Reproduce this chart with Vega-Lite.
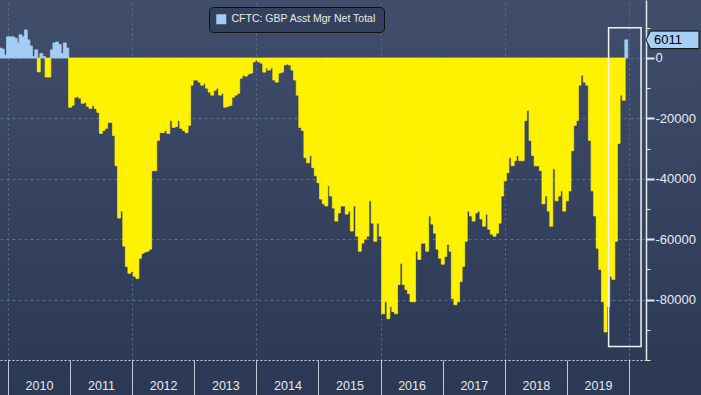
{
  "$schema": "https://vega.github.io/schema/vega-lite/v6.json",
  "width": 701,
  "height": 395,
  "autosize": {"type": "none"},
  "padding": 0,
  "background": "#2f3c58",
  "config": {
    "view": {"stroke": null, "fill": {"gradient": "linear", "x1": 0, "y1": 0, "x2": 0, "y2": 1, "stops": [{"offset": 0, "color": "#404d6b"}, {"offset": 1, "color": "#2c3954"}]}},
    "font": "Liberation Sans",
    "axis": {"title": null, "labelFont": "Liberation Sans"},
    "scale": {"continuousPadding": 0}
  },
  "datasets": {
    "cftc": [
      {"date": "2009-11-16", "net": 3300}, {"date": "2009-12-01", "net": 3000}, {"date": "2009-12-16", "net": 1000},
      {"date": "2010-01-01", "net": 7000}, {"date": "2010-01-16", "net": 7000}, {"date": "2010-02-01", "net": 7000}, {"date": "2010-02-16", "net": 6500},
      {"date": "2010-03-01", "net": 5000}, {"date": "2010-03-16", "net": 7700}, {"date": "2010-04-01", "net": 7000}, {"date": "2010-04-16", "net": 9300},
      {"date": "2010-05-01", "net": 6000}, {"date": "2010-05-16", "net": 4000}, {"date": "2010-06-01", "net": 500}, {"date": "2010-06-16", "net": 2700},
      {"date": "2010-07-01", "net": -4600}, {"date": "2010-07-16", "net": 1500}, {"date": "2010-08-01", "net": 500}, {"date": "2010-08-16", "net": -6300},
      {"date": "2010-09-01", "net": -6300}, {"date": "2010-09-16", "net": 2700}, {"date": "2010-10-01", "net": 5000}, {"date": "2010-10-16", "net": 5300},
      {"date": "2010-11-01", "net": 4500}, {"date": "2010-11-16", "net": 1500}, {"date": "2010-12-01", "net": 5000}, {"date": "2010-12-16", "net": 3300},
      {"date": "2011-01-01", "net": -16300}, {"date": "2011-01-16", "net": -15700}, {"date": "2011-02-01", "net": -13000}, {"date": "2011-02-16", "net": -12700},
      {"date": "2011-03-01", "net": -13300}, {"date": "2011-03-16", "net": -15000}, {"date": "2011-04-01", "net": -14700}, {"date": "2011-04-16", "net": -16000},
      {"date": "2011-05-01", "net": -16700}, {"date": "2011-05-16", "net": -15700}, {"date": "2011-06-01", "net": -16700}, {"date": "2011-06-16", "net": -18000},
      {"date": "2011-07-01", "net": -25000}, {"date": "2011-07-16", "net": -24000}, {"date": "2011-08-01", "net": -23300}, {"date": "2011-08-16", "net": -21300},
      {"date": "2011-09-01", "net": -21300}, {"date": "2011-09-16", "net": -25700}, {"date": "2011-10-01", "net": -35700}, {"date": "2011-10-16", "net": -53000},
      {"date": "2011-11-01", "net": -50700}, {"date": "2011-11-16", "net": -62300}, {"date": "2011-12-01", "net": -69000}, {"date": "2011-12-16", "net": -71300},
      {"date": "2012-01-01", "net": -70700}, {"date": "2012-01-16", "net": -72300}, {"date": "2012-02-01", "net": -73000}, {"date": "2012-02-16", "net": -66300},
      {"date": "2012-03-01", "net": -64700}, {"date": "2012-03-16", "net": -64300}, {"date": "2012-04-01", "net": -64000}, {"date": "2012-04-16", "net": -63300},
      {"date": "2012-05-01", "net": -37300}, {"date": "2012-05-16", "net": -37300}, {"date": "2012-06-01", "net": -27300}, {"date": "2012-06-16", "net": -24700},
      {"date": "2012-07-01", "net": -24700}, {"date": "2012-07-16", "net": -24000}, {"date": "2012-08-01", "net": -25000}, {"date": "2012-08-16", "net": -20700},
      {"date": "2012-09-01", "net": -23000}, {"date": "2012-09-16", "net": -22700}, {"date": "2012-10-01", "net": -20700}, {"date": "2012-10-16", "net": -23300},
      {"date": "2012-11-01", "net": -24000}, {"date": "2012-11-16", "net": -24700}, {"date": "2012-12-01", "net": -22300}, {"date": "2012-12-16", "net": -9000},
      {"date": "2013-01-01", "net": -7300}, {"date": "2013-01-16", "net": -7300}, {"date": "2013-02-01", "net": -8000}, {"date": "2013-02-16", "net": -9000},
      {"date": "2013-03-01", "net": -8300}, {"date": "2013-03-16", "net": -10000}, {"date": "2013-04-01", "net": -11300}, {"date": "2013-04-16", "net": -12300},
      {"date": "2013-05-01", "net": -10700}, {"date": "2013-05-16", "net": -10000}, {"date": "2013-06-01", "net": -12300}, {"date": "2013-06-16", "net": -11700},
      {"date": "2013-07-01", "net": -16300}, {"date": "2013-07-16", "net": -16000}, {"date": "2013-08-01", "net": -15700}, {"date": "2013-08-16", "net": -13000},
      {"date": "2013-09-01", "net": -12300}, {"date": "2013-09-16", "net": -11700}, {"date": "2013-10-01", "net": -6700}, {"date": "2013-10-16", "net": -5700},
      {"date": "2013-11-01", "net": -6000}, {"date": "2013-11-16", "net": -5300}, {"date": "2013-12-01", "net": -5000}, {"date": "2013-12-16", "net": -1300},
      {"date": "2014-01-01", "net": -700}, {"date": "2014-01-16", "net": -1300}, {"date": "2014-02-01", "net": -1700}, {"date": "2014-02-16", "net": -4700},
      {"date": "2014-03-01", "net": -3300}, {"date": "2014-03-16", "net": -4000}, {"date": "2014-04-01", "net": -3300}, {"date": "2014-04-16", "net": -7300},
      {"date": "2014-05-01", "net": -8000}, {"date": "2014-05-16", "net": -5000}, {"date": "2014-06-01", "net": -4700}, {"date": "2014-06-16", "net": -2300},
      {"date": "2014-07-01", "net": -2000}, {"date": "2014-07-16", "net": -2300}, {"date": "2014-08-01", "net": -4000}, {"date": "2014-08-16", "net": -7300},
      {"date": "2014-09-01", "net": -12300}, {"date": "2014-09-16", "net": -23000}, {"date": "2014-10-01", "net": -24000}, {"date": "2014-10-16", "net": -33000},
      {"date": "2014-11-01", "net": -34700}, {"date": "2014-11-16", "net": -32300}, {"date": "2014-12-01", "net": -36300}, {"date": "2014-12-16", "net": -39000},
      {"date": "2015-01-01", "net": -41300}, {"date": "2015-01-16", "net": -46700}, {"date": "2015-02-01", "net": -48300}, {"date": "2015-02-16", "net": -49000},
      {"date": "2015-03-01", "net": -42300}, {"date": "2015-03-16", "net": -45700}, {"date": "2015-04-01", "net": -49700}, {"date": "2015-04-16", "net": -54000},
      {"date": "2015-05-01", "net": -51300}, {"date": "2015-05-16", "net": -49000}, {"date": "2015-06-01", "net": -49000}, {"date": "2015-06-16", "net": -51700},
      {"date": "2015-07-01", "net": -50700}, {"date": "2015-07-16", "net": -57300}, {"date": "2015-08-01", "net": -49000}, {"date": "2015-08-16", "net": -59000},
      {"date": "2015-09-01", "net": -64000}, {"date": "2015-09-16", "net": -61300}, {"date": "2015-10-01", "net": -60000}, {"date": "2015-10-16", "net": -59000},
      {"date": "2015-11-01", "net": -47300}, {"date": "2015-11-16", "net": -54700}, {"date": "2015-12-01", "net": -60700}, {"date": "2015-12-16", "net": -54700},
      {"date": "2016-01-01", "net": -59000}, {"date": "2016-01-16", "net": -84700}, {"date": "2016-02-01", "net": -80700}, {"date": "2016-02-16", "net": -86300},
      {"date": "2016-03-01", "net": -82300}, {"date": "2016-03-16", "net": -84000}, {"date": "2016-04-01", "net": -84700}, {"date": "2016-04-16", "net": -75000},
      {"date": "2016-05-01", "net": -68000}, {"date": "2016-05-16", "net": -75000}, {"date": "2016-06-01", "net": -76700}, {"date": "2016-06-16", "net": -78000},
      {"date": "2016-07-01", "net": -80700}, {"date": "2016-07-16", "net": -80700}, {"date": "2016-08-01", "net": -64000}, {"date": "2016-08-16", "net": -66700},
      {"date": "2016-09-01", "net": -61300}, {"date": "2016-09-16", "net": -61300}, {"date": "2016-10-01", "net": -64000}, {"date": "2016-10-16", "net": -52300},
      {"date": "2016-11-01", "net": -55000}, {"date": "2016-11-16", "net": -58000}, {"date": "2016-12-01", "net": -63300}, {"date": "2016-12-16", "net": -66300},
      {"date": "2017-01-01", "net": -68300}, {"date": "2017-01-16", "net": -65700}, {"date": "2017-02-01", "net": -61700}, {"date": "2017-02-16", "net": -64000},
      {"date": "2017-03-01", "net": -79700}, {"date": "2017-03-16", "net": -81700}, {"date": "2017-04-01", "net": -80700}, {"date": "2017-04-16", "net": -74000},
      {"date": "2017-05-01", "net": -69000}, {"date": "2017-05-16", "net": -60700}, {"date": "2017-06-01", "net": -50700}, {"date": "2017-06-16", "net": -52300},
      {"date": "2017-07-01", "net": -54000}, {"date": "2017-07-16", "net": -51300}, {"date": "2017-08-01", "net": -50700}, {"date": "2017-08-16", "net": -53300},
      {"date": "2017-09-01", "net": -55700}, {"date": "2017-09-16", "net": -51700}, {"date": "2017-10-01", "net": -56700}, {"date": "2017-10-16", "net": -58300},
      {"date": "2017-11-01", "net": -59000}, {"date": "2017-11-16", "net": -58000}, {"date": "2017-12-01", "net": -54700}, {"date": "2017-12-16", "net": -45700},
      {"date": "2018-01-01", "net": -40700}, {"date": "2018-01-16", "net": -38000}, {"date": "2018-02-01", "net": -33000}, {"date": "2018-02-16", "net": -35700},
      {"date": "2018-03-01", "net": -34000}, {"date": "2018-03-16", "net": -32300}, {"date": "2018-04-01", "net": -34000}, {"date": "2018-04-16", "net": -34000},
      {"date": "2018-05-01", "net": -20700}, {"date": "2018-05-16", "net": -17300}, {"date": "2018-06-01", "net": -27300}, {"date": "2018-06-16", "net": -32300},
      {"date": "2018-07-01", "net": -35700}, {"date": "2018-07-16", "net": -35700}, {"date": "2018-08-01", "net": -37300}, {"date": "2018-08-16", "net": -48300},
      {"date": "2018-09-01", "net": -45700}, {"date": "2018-09-16", "net": -50700}, {"date": "2018-10-01", "net": -55700}, {"date": "2018-10-16", "net": -36700},
      {"date": "2018-11-01", "net": -47300}, {"date": "2018-11-16", "net": -45700}, {"date": "2018-12-01", "net": -44000}, {"date": "2018-12-16", "net": -50700},
      {"date": "2019-01-01", "net": -47300}, {"date": "2019-01-16", "net": -44000}, {"date": "2019-02-01", "net": -30700}, {"date": "2019-02-16", "net": -22300},
      {"date": "2019-03-01", "net": -20700}, {"date": "2019-03-16", "net": -9000}, {"date": "2019-04-01", "net": -5700}, {"date": "2019-04-16", "net": -8000},
      {"date": "2019-05-01", "net": -9000}, {"date": "2019-05-16", "net": -27300}, {"date": "2019-06-01", "net": -44000}, {"date": "2019-06-16", "net": -52300},
      {"date": "2019-07-01", "net": -63000}, {"date": "2019-07-16", "net": -70000}, {"date": "2019-08-01", "net": -80700}, {"date": "2019-08-16", "net": -90700},
      {"date": "2019-09-01", "net": -82300}, {"date": "2019-09-16", "net": -72300}, {"date": "2019-10-01", "net": -73300}, {"date": "2019-10-16", "net": -60700},
      {"date": "2019-11-01", "net": -28300}, {"date": "2019-11-16", "net": -12300}, {"date": "2019-12-01", "net": -14000}, {"date": "2019-12-16", "net": 6011}
    ]
  },
  "resolve": {"axis": {"x": "independent", "y": "independent"}},
  "layer": [
    {
      "data": {"name": "cftc"},
      "mark": {"type": "bar", "size": 3, "strokeWidth": 0.7},
      "encoding": {
        "x": {
          "field": "date", "type": "temporal",
          "scale": {"type": "utc", "domain": [{"year": 2009, "month": 11, "date": 15, "utc": true}, {"year": 2020, "month": 4, "date": 10, "utc": true}], "range": [0, 646], "padding": 0},
          "axis": {
            "orient": "bottom", "offset": -35, "title": null, "grid": false,
            "values": [
              {"year": 2010, "month": 1, "date": 1, "utc": true}, {"year": 2011, "month": 1, "date": 1, "utc": true},
              {"year": 2012, "month": 1, "date": 1, "utc": true}, {"year": 2013, "month": 1, "date": 1, "utc": true},
              {"year": 2014, "month": 1, "date": 1, "utc": true}, {"year": 2015, "month": 1, "date": 1, "utc": true},
              {"year": 2016, "month": 1, "date": 1, "utc": true}, {"year": 2017, "month": 1, "date": 1, "utc": true},
              {"year": 2018, "month": 1, "date": 1, "utc": true}, {"year": 2019, "month": 1, "date": 1, "utc": true},
              {"year": 2020, "month": 1, "date": 1, "utc": true}
            ],
            "tickSize": 35, "tickColor": "#c3c9d3", "tickWidth": 1,
            "domain": true, "domainColor": "#d3d8e0", "domainDash": [2, 2], "domainWidth": 1,
            "labelOffset": 31, "labelPadding": -16, "labelAlign": "center", "labelBaseline": "top",
            "labelFontSize": 12.5, "labelColor": "#e6e9ef", "labelOverlap": false, "labelFlush": false, "labelBound": false,
            "labelExpr": "utcFormat(datum.value, '%Y') == '2020' ? '' : utcFormat(datum.value, '%Y')"
          }
        },
        "y": {
          "field": "net", "type": "quantitative",
          "scale": {"domain": [-100000, 19205], "range": [360, 0], "nice": false, "zero": false, "padding": 0},
          "axis": {
            "orient": "right", "offset": -55, "title": null, "grid": false,
            "values": [0, -20000, -40000, -60000, -80000],
            "domain": true, "domainColor": "#e8e8e8", "domainWidth": 1.5,
            "tickSize": 8, "tickWidth": 2, "tickColor": "#e8e8e8",
            "labelPadding": 1, "labelFontSize": 13, "labelColor": "#e8ebf0", "labelBaseline": "middle",
            "labelExpr": "datum.value + ''"
          }
        },
        "color": {
          "datum": "CFTC: GBP Asst Mgr Net Total",
          "condition": {"test": "datum.net < 0", "value": "#fff200"},
          "scale": {"range": ["#a3cdf5"]},
          "legend": {
            "orient": "none", "legendX": 209, "legendY": 7, "title": null,
            "fillColor": "#34415c", "strokeColor": "#111111", "cornerRadius": 4, "padding": 7,
            "symbolType": "square", "symbolSize": 100, "symbolStrokeWidth": 0, "labelOffset": 5,
            "labelColor": "#e8e8e8", "labelFont": "Liberation Sans", "labelFontSize": 10.5, "labelLimit": 400
          }
        },
        "stroke": {"condition": {"test": "datum.net < 0", "value": "#fff200"}, "value": "#a3cdf5"}
      }
    },
    {
      "data": {"values": [{}]},
      "mark": {"type": "rect", "filled": false, "stroke": "#f2f2f2", "strokeWidth": 1.5},
      "encoding": {
        "x": {
          "datum": {"year": 2019, "month": 9, "date": 3, "utc": true}, "type": "temporal",
          "scale": {"type": "utc", "domain": [{"year": 2009, "month": 11, "date": 15, "utc": true}, {"year": 2020, "month": 4, "date": 10, "utc": true}], "range": [0, 646], "padding": 0},
          "axis": {
            "orient": "top", "title": null, "grid": true, "gridColor": "#5a6f8e", "gridDash": [2, 3], "gridWidth": 1,
            "labels": false, "ticks": false, "domain": false,
            "values": [
              {"year": 2010, "month": 1, "date": 1, "utc": true}, {"year": 2012, "month": 1, "date": 1, "utc": true},
              {"year": 2014, "month": 1, "date": 1, "utc": true}, {"year": 2016, "month": 1, "date": 1, "utc": true},
              {"year": 2018, "month": 1, "date": 1, "utc": true}, {"year": 2020, "month": 1, "date": 1, "utc": true}
            ]
          }
        },
        "x2": {"datum": {"year": 2020, "month": 3, "date": 12, "utc": true}},
        "y": {
          "datum": 10000, "type": "quantitative",
          "scale": {"domain": [-100000, 19205], "range": [360, 0], "nice": false, "zero": false, "padding": 0},
          "axis": {
            "orient": "left", "title": null, "grid": true, "gridColor": "#5a6f8e", "gridDash": [3, 3], "gridWidth": 1,
            "labels": false, "ticks": false, "domain": false,
            "values": [0, -20000, -40000, -60000, -80000]
          }
        },
        "y2": {"datum": -95500}
      }
    },
    {
      "data": {"name": "cftc"},
      "transform": [{"filter": "datum.net == 6011"}],
      "mark": {"type": "point", "shape": "M 0 0 L 0.17 -0.33 L 2 -0.33 L 2 0.33 L 0.17 0.33 Z", "filled": true, "fill": "#a6cff6", "stroke": "#101010", "strokeWidth": 1, "size": 2809, "opacity": 1},
      "encoding": {
        "x": {
          "datum": {"year": 2020, "month": 4, "date": 10, "utc": true}, "type": "temporal",
          "scale": {"type": "utc", "domain": [{"year": 2009, "month": 11, "date": 15, "utc": true}, {"year": 2020, "month": 4, "date": 10, "utc": true}], "range": [0, 646], "padding": 0},
          "axis": null
        },
        "y": {
          "field": "net", "type": "quantitative",
          "scale": {"domain": [-100000, 19205], "range": [360, 0], "nice": false, "zero": false, "padding": 0},
          "axis": {
            "orient": "right", "offset": -55, "title": null, "grid": false, "labels": false, "domain": false,
            "values": [10000, -10000, -30000, -50000, -70000, -90000, -100000],
            "tickSize": 4, "tickWidth": 1, "tickColor": "#e8e8e8"
          }
        }
      }
    },
    {
      "data": {"name": "cftc"},
      "transform": [{"filter": "datum.net == 6011"}],
      "mark": {"type": "text", "align": "left", "baseline": "middle", "dx": 8, "fontSize": 13, "font": "Liberation Sans", "color": "#000000"},
      "encoding": {
        "x": {
          "datum": {"year": 2020, "month": 4, "date": 10, "utc": true}, "type": "temporal",
          "scale": {"type": "utc", "domain": [{"year": 2009, "month": 11, "date": 15, "utc": true}, {"year": 2020, "month": 4, "date": 10, "utc": true}], "range": [0, 646], "padding": 0},
          "axis": null
        },
        "y": {
          "field": "net", "type": "quantitative",
          "scale": {"domain": [-100000, 19205], "range": [360, 0], "nice": false, "zero": false, "padding": 0},
          "axis": null
        },
        "text": {"field": "net", "type": "quantitative", "format": "d"}
      }
    }
  ]
}
